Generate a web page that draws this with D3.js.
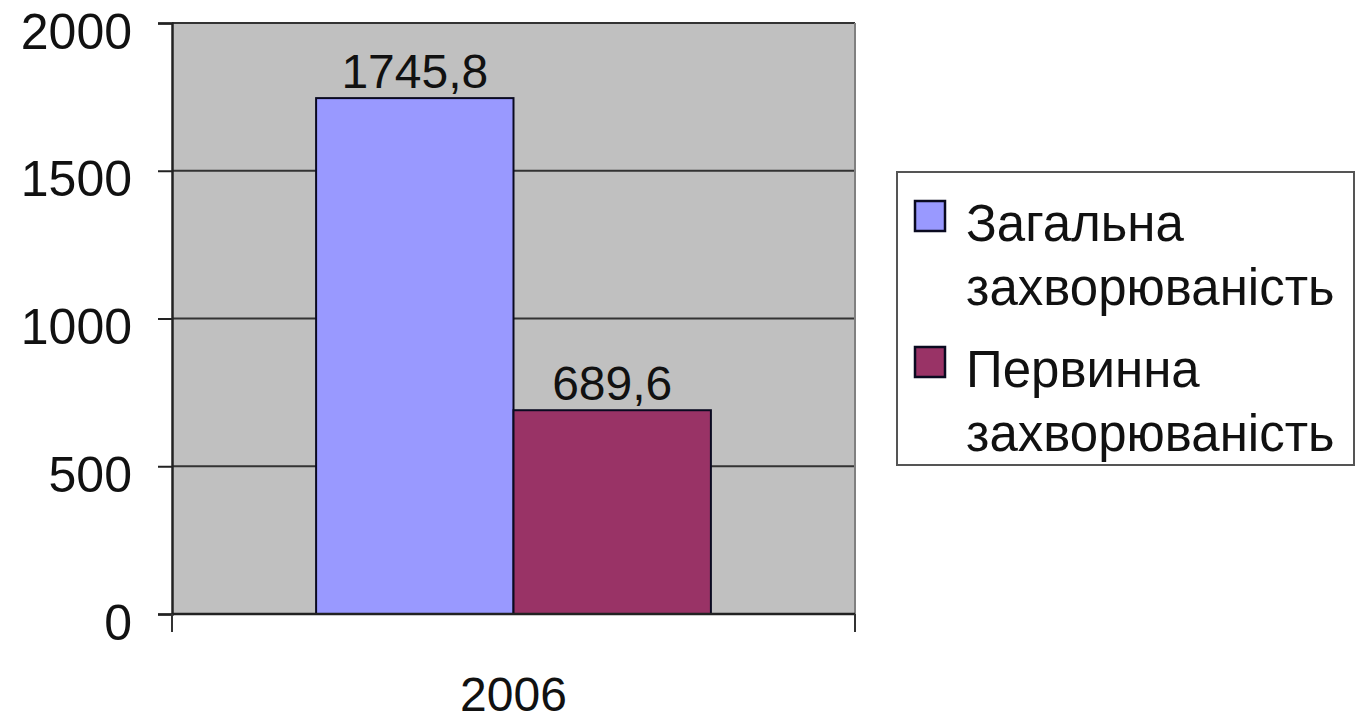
<!DOCTYPE html>
<html>
<head>
<meta charset="utf-8">
<script src="https://cdn.jsdelivr.net/npm/d3@7"></script>
<style>
html,body{margin:0;padding:0;background:#fff;}
svg{display:block;}
text{font-family:"Liberation Sans",Arial,sans-serif;fill:#111;}
</style>
</head>
<body>
<svg id="chart" width="1359" height="723"></svg>
<script>
const categories = ["2006"];
const seriesNames = ["Загальна захворюваність", "Первинна захворюваність"];
const legendLines = [["Загальна", "захворюваність"], ["Первинна", "захворюваність"]];
const seriesValues = [[1745.8], [689.6]];
const valueLabels = [["1745,8"], ["689,6"]];
const yTicks = [0, 500, 1000, 1500, 2000];
const colors = ["#9999ff", "#993366"];

const svg = d3.select("#chart");
const plot = {left: 172, right: 855, top: 23, bottom: 614};

const y = d3.scaleLinear().domain([0, 2000]).range([plot.bottom, plot.top]);
const x0 = d3.scaleBand().domain(categories).range([plot.left, plot.right]).paddingInner(0).paddingOuter(0.365);
const x1 = d3.scaleBand().domain(d3.range(seriesNames.length)).range([0, x0.bandwidth()]).padding(0);

// plot background
svg.append("rect").attr("x", plot.left).attr("y", plot.top)
  .attr("width", plot.right - plot.left).attr("height", plot.bottom - plot.top)
  .attr("fill", "#c0c0c0");

// gridlines
svg.append("g").selectAll("line").data(yTicks.filter(d => d > 0)).join("line")
  .attr("x1", plot.left).attr("x2", plot.right)
  .attr("y1", d => y(d)).attr("y2", d => y(d))
  .attr("stroke", "#333").attr("stroke-width", 2);

// right border
svg.append("line").attr("x1", plot.right).attr("x2", plot.right)
  .attr("y1", plot.top).attr("y2", plot.bottom)
  .attr("stroke", "#808080").attr("stroke-width", 2);

// bars
const groups = svg.append("g").selectAll("g").data(categories).join("g")
  .attr("transform", d => `translate(${x0(d)},0)`);
seriesNames.forEach((s, si) => {
  groups.append("rect")
    .attr("x", (d, ci) => x1(si))
    .attr("y", (d, ci) => y(seriesValues[si][ci]))
    .attr("width", x1.bandwidth())
    .attr("height", (d, ci) => y(0) - y(seriesValues[si][ci]))
    .attr("fill", colors[si]).attr("stroke", "#0a0a20").attr("stroke-width", 2);
  groups.append("text")
    .attr("x", x1(si) + x1.bandwidth() / 2)
    .attr("y", (d, ci) => y(seriesValues[si][ci]) - 10)
    .attr("text-anchor", "middle").attr("font-size", 48)
    .text((d, ci) => valueLabels[si][ci]);
});

// y axis
const yAxis = d3.axisLeft(y).tickValues(yTicks).tickSize(14).tickPadding(26).tickFormat(d3.format("d"));
const gy = svg.append("g").attr("transform", `translate(${plot.left},0)`).call(yAxis);
gy.select(".domain").attr("stroke", "#222").attr("stroke-width", 2.5);
gy.selectAll(".tick line").attr("stroke", "#222").attr("stroke-width", 2);
gy.selectAll(".tick text").attr("font-size", 50).attr("font-family", "Liberation Sans, Arial, sans-serif")
  .attr("fill", "#111").attr("dy", "0.5em");

// x axis
const gx = svg.append("g").attr("transform", `translate(0,${plot.bottom})`);
gx.append("line").attr("x1", plot.left).attr("x2", plot.right).attr("y1", 0).attr("y2", 0)
  .attr("stroke", "#222").attr("stroke-width", 2.5);
gx.selectAll("line.tk").data([plot.left, plot.right]).join("line").attr("class", "tk")
  .attr("x1", d => d).attr("x2", d => d).attr("y1", 0).attr("y2", 18)
  .attr("stroke", "#333").attr("stroke-width", 2);
gx.selectAll("text").data(categories).join("text")
  .attr("x", d => (plot.left + plot.right) / 2).attr("y", 97)
  .attr("text-anchor", "middle").attr("font-size", 48).text(d => d);

// legend
const lg = svg.append("g");
lg.append("rect").attr("x", 897).attr("y", 172).attr("width", 457).attr("height", 293)
  .attr("fill", "#fff").attr("stroke", "#555").attr("stroke-width", 2);
legendLines.forEach((lines, i) => {
  const top = 201 + i * 146;
  lg.append("rect").attr("x", 915).attr("y", top).attr("width", 30).attr("height", 30)
    .attr("fill", colors[i]).attr("stroke", "#0a0a20").attr("stroke-width", 2.5);
  lines.forEach((t, j) => {
    lg.append("text").attr("x", 966).attr("y", top + 40 + j * 64)
      .attr("font-size", 51).text(t);
  });
});
</script>
</body>
</html>
